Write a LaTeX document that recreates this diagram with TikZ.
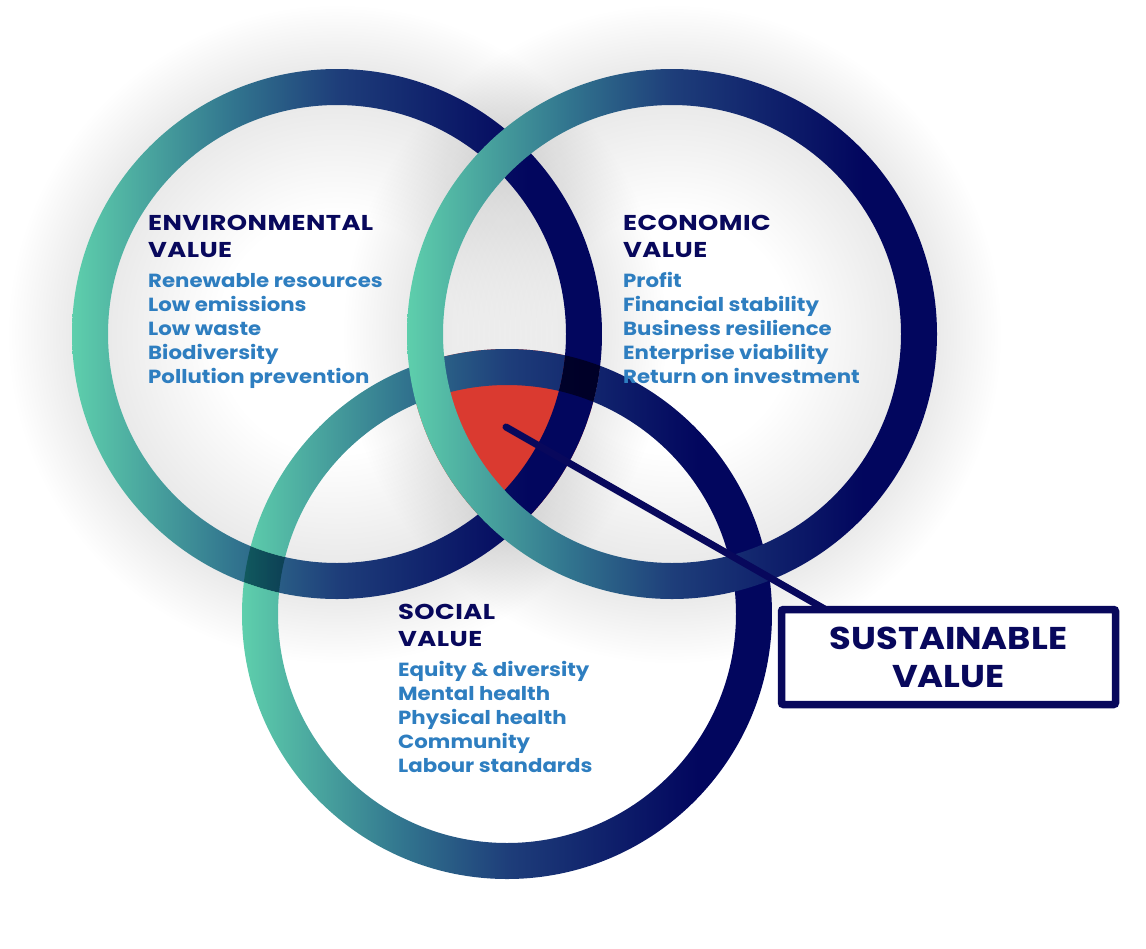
\documentclass[tikz,border=0pt]{standalone}
\usepackage{fontspec}
\setmainfont{Poppins}
\newfontfamily\itemfont{Poppins}[FakeStretch=1.12]
\newfontfamily\headfont{Poppins}[FakeStretch=1.2, LetterSpace=2]
\usepackage{xcolor}
\definecolor{ringteal}{RGB}{94,207,172}
\definecolor{ringmid}{RGB}{50,118,143}
\definecolor{ringblue}{RGB}{30,62,122}
\definecolor{ringnavy}{RGB}{2,6,94}
\definecolor{valnavy}{RGB}{8,8,92}
\definecolor{valblue}{RGB}{46,126,192}
\definecolor{corered}{RGB}{218,58,48}
\definecolor{glowgray}{RGB}{234,234,234}

\pgfdeclarehorizontalshading{ringshade}{100bp}{color(0bp)=(ringteal); color(25bp)=(ringteal); color(40bp)=(ringmid); color(50bp)=(ringblue); color(68bp)=(ringnavy); color(100bp)=(ringnavy)}
\pgfdeclareradialshading{ringglow}{\pgfpointorigin}{color(0bp)=(white); color(9bp)=(white); color(17.3bp)=(glowgray); color(20bp)=(glowgray); color(25bp)=(white); color(50bp)=(white)}

\begin{document}
\begin{tikzpicture}[x=1pt, y=-1pt,
    title/.style={anchor=base west, inner sep=0pt, text=valnavy, font=\headfont\fontsize{21.5}{27}\selectfont\bfseries},
    item/.style={anchor=base west, inner sep=0pt, text=valblue, font=\itemfont\fontsize{19}{24}\selectfont\bfseries},
    ring/.style={shading=ringshade, even odd rule},
    leader/.style={draw=valnavy, line width=7pt, line cap=round},
    svbox/.style={draw=valnavy, fill=white, line width=7.5pt, rounded corners=2pt, outer sep=0pt,
        minimum width=334pt, minimum height=95pt, align=center, text=valnavy,
        font=\itemfont\fontsize{31.5}{38}\selectfont\bfseries}]
    \useasboundingbox (0,0) rectangle (1146,948);

    % Centres
    \coordinate (env) at (337,334);
    \coordinate (eco) at (672,334);
    \coordinate (soc) at (507,614);

    % Soft shadows
    \begin{scope}[blend mode=multiply]
        \foreach \c in {env,eco}
            \shade[shading=ringglow] (\c) circle (330);
    \end{scope}

    % Core where all three meet
    \begin{scope}
        \clip (env) circle (265);
        \clip (eco) circle (265);
        \fill[corered] (soc) circle (265);
    \end{scope}

    % Rings
    \shade[ring] (env) circle (265) (env) circle (229);
    \begin{scope}[even odd rule]
        \clip (-20,-20) rectangle (1170,970) (env) circle (265) (env) circle (229);
        \shade[ring] (soc) circle (265) (soc) circle (229);
    \end{scope}
    \begin{scope}[even odd rule, blend mode=multiply]
        \clip (env) circle (265) (env) circle (229);
        \shade[ring] (soc) circle (265) (soc) circle (229);
    \end{scope}
    \shade[ring] (eco) circle (265) (eco) circle (229);

    % Labels
    \node[title] (env-head) at (148,230) {ENVIRONMENTAL};
    \node[title] (env-sub) at (148,257) {VALUE};
    \foreach \txt [count=\i] in {Renewable resources, Low emissions, Low waste, Biodiversity, Pollution prevention}
        \node[item] (env-\i) at (148,263+24*\i) {\txt};

    \node[title] (eco-head) at (623,230) {ECONOMIC};
    \node[title] (eco-sub) at (623,257) {VALUE};
    \foreach \txt [count=\i] in {Profit, Financial stability, Business resilience, Enterprise viability, Return on investment}
        \node[item] (eco-\i) at (623,263+24*\i) {\txt};

    \node[title] (soc-head) at (398,619) {SOCIAL};
    \node[title] (soc-sub) at (398,646) {VALUE};
    \foreach \txt [count=\i] in {Equity \& diversity, Mental health, Physical health, Community, Labour standards}
        \node[item] (soc-\i) at (398,652+24*\i) {\txt};

    % Callout
    \coordinate (core) at (506,427);
    \coordinate (sv-pos) at (948.5,657);
    \draw[leader] (core) -- ([xshift=-123pt, yshift=47.5pt]sv-pos.center) coordinate (sv-joint);
    \node[svbox] (sv) at (sv-pos) {SUSTAINABLE\\VALUE};
\end{tikzpicture}
\end{document}
